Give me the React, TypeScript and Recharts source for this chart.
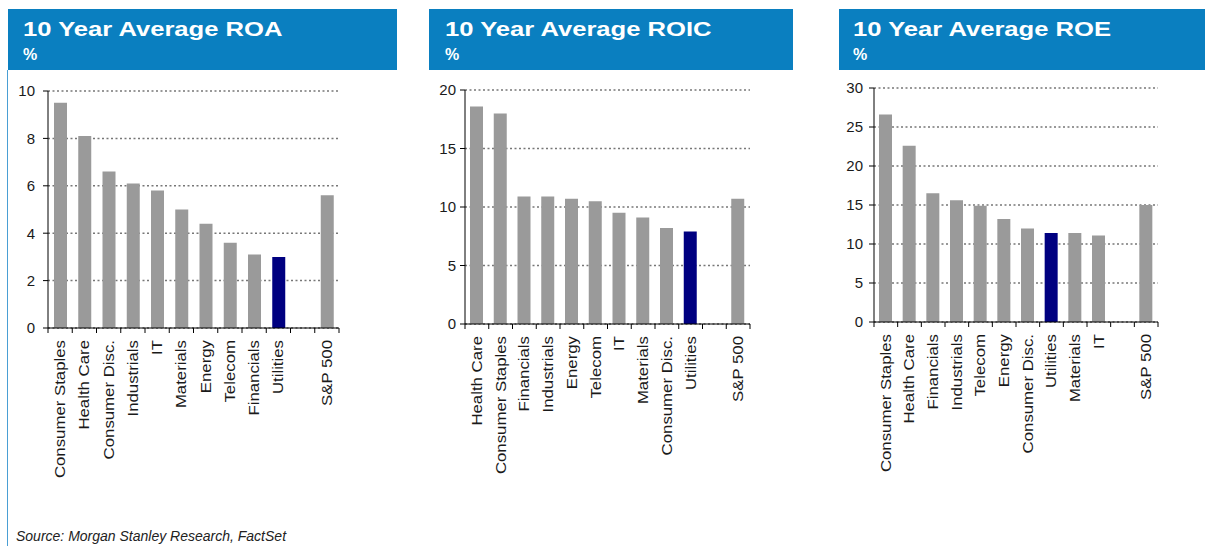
import { BarChart, Bar, XAxis, YAxis, CartesianGrid, Cell } from "recharts";

const roaCategories = [
  "Consumer Staples", "Health Care", "Consumer Disc.", "Industrials", "IT",
  "Materials", "Energy", "Telecom", "Financials", "Utilities", "", "S&P 500",
];
const roaValues = [9.5, 8.1, 6.6, 6.1, 5.8, 5.0, 4.4, 3.6, 3.1, 3.0, null, 5.6];
const roaTicks = [0, 2, 4, 6, 8, 10];

const roicCategories = [
  "Health Care", "Consumer Staples", "Financials", "Industrials", "Energy",
  "Telecom", "IT", "Materials", "Consumer Disc.", "Utilities", "", "S&P 500",
];
const roicValues = [18.6, 18.0, 10.9, 10.9, 10.7, 10.5, 9.5, 9.1, 8.2, 7.9, null, 10.7];
const roicTicks = [0, 5, 10, 15, 20];

const roeCategories = [
  "Consumer Staples", "Health Care", "Financials", "Industrials", "Telecom",
  "Energy", "Consumer Disc.", "Utilities", "Materials", "IT", "", "S&P 500",
];
const roeValues = [26.6, 22.6, 16.5, 15.6, 14.9, 13.2, 12.0, 11.4, 11.4, 11.1, null, 15.0];
const roeTicks = [0, 5, 10, 15, 20, 25, 30];

const FONT = "'Liberation Sans', Arial, sans-serif";
const HEADER_BLUE = "#0a7fc0";
const BAR_GREY = "#9a9a9a";
const HIGHLIGHT = "#000080";
const Y_AXIS_W = 44;
const X_AXIS_H = 160;
const PAGE_H = 546;

const XTick = (props: any) => {
  const { x, y, payload, index, slot, count } = props;
  return (
    <g>
      <line x1={x - slot / 2} x2={x - slot / 2} y1={y} y2={y + 5} stroke="#000" />
      {index === count - 1 && (
        <line x1={x + slot / 2} x2={x + slot / 2} y1={y} y2={y + 5} stroke="#000" />
      )}
      <text
        transform={`translate(${x},${y + 12}) rotate(-90) scale(1.2,1)`}
        textAnchor="end"
        dy="0.35em"
        fontSize={14}
        fontFamily={FONT}
        fill="#1a1a1a"
      >
        {payload.value}
      </text>
    </g>
  );
};

interface PanelProps {
  title: string;
  categories: string[];
  values: (number | null)[];
  ticks: number[];
  headerLeft: number;
  headerRight: number;
  textLeft: number;
  chartLeft: number;
  chartWidth: number;
  plot: { left: number; right: number; top: number; bottom: number };
  tickMargin: number;
}

const Panel = ({
  title, categories, values, ticks, headerLeft, headerRight, textLeft,
  chartLeft, chartWidth, plot, tickMargin,
}: PanelProps) => {
  const data = categories.map((name, i) => ({ name, value: values[i] }));
  const slot = (plot.right - plot.left) / categories.length;
  const margin = {
    top: plot.top,
    left: plot.left - chartLeft - Y_AXIS_W,
    right: chartLeft + chartWidth - plot.right,
    bottom: PAGE_H - plot.bottom - X_AXIS_H,
  };
  return (
    <>
      <div style={{ position: "absolute", left: chartLeft, top: 0 }}>
        <BarChart width={chartWidth} height={PAGE_H} data={data} margin={margin}>
          <CartesianGrid
            vertical={false}
            stroke="#777"
            strokeWidth={1.5}
            strokeDasharray="2 2.5"
          />
          <XAxis
            dataKey="name"
            interval={0}
            height={X_AXIS_H}
            tickLine={false}
            tickSize={0}
            tickMargin={0}
            axisLine={{ stroke: "#000" }}
            tick={(p: any) => <XTick {...p} slot={slot} count={categories.length} />}
          />
          <YAxis
            width={Y_AXIS_W}
            domain={[ticks[0], ticks[ticks.length - 1]]}
            ticks={ticks}
            interval={0}
            tickSize={5}
            tickMargin={tickMargin}
            axisLine={{ stroke: "#000" }}
            tickLine={{ stroke: "#000" }}
            tick={{ fontSize: 15, fill: "#1a1a1a", fontFamily: FONT }}
          />
          <Bar dataKey="value" barSize={13} isAnimationActive={false}>
            {data.map((d) => (
              <Cell key={d.name || "gap"} fill={d.name === "Utilities" ? HIGHLIGHT : BAR_GREY} />
            ))}
          </Bar>
        </BarChart>
      </div>
      <div
        style={{
          position: "absolute",
          left: headerLeft,
          top: 9,
          width: headerRight - headerLeft,
          height: 61,
          background: HEADER_BLUE,
        }}
      />
      <div
        style={{
          position: "absolute",
          left: textLeft,
          top: 19,
          fontFamily: FONT,
          fontWeight: 700,
          fontSize: 20,
          lineHeight: "20px",
          color: "#fff",
          whiteSpace: "nowrap",
          transform: "scaleX(1.28)",
          transformOrigin: "left",
        }}
      >
        {title}
      </div>
      <div
        style={{
          position: "absolute",
          left: textLeft,
          top: 47,
          fontFamily: FONT,
          fontWeight: 700,
          fontSize: 16,
          lineHeight: "16px",
          color: "#fff",
        }}
      >
        %
      </div>
    </>
  );
};

export default function App() {
  return (
    <div
      style={{
        position: "absolute",
        left: 0,
        top: 0,
        width: 1205,
        height: PAGE_H,
        overflow: "hidden",
        background: "#fff",
      }}
    >
      <Panel
        title="10 Year Average ROA"
        categories={roaCategories}
        values={roaValues}
        ticks={roaTicks}
        headerLeft={8}
        headerRight={397}
        textLeft={23}
        chartLeft={0}
        chartWidth={400}
        plot={{ left: 48, right: 339, top: 91, bottom: 328 }}
        tickMargin={8}
      />
      <Panel
        title="10 Year Average ROIC"
        categories={roicCategories}
        values={roicValues}
        ticks={roicTicks}
        headerLeft={429}
        headerRight={793}
        textLeft={445}
        chartLeft={400}
        chartWidth={400}
        plot={{ left: 465, right: 750, top: 90, bottom: 324 }}
        tickMargin={4}
      />
      <Panel
        title="10 Year Average ROE"
        categories={roeCategories}
        values={roeValues}
        ticks={roeTicks}
        headerLeft={839}
        headerRight={1205}
        textLeft={853}
        chartLeft={805}
        chartWidth={400}
        plot={{ left: 874, right: 1158, top: 88, bottom: 322 }}
        tickMargin={6}
      />
      <div
        style={{
          position: "absolute",
          left: 7,
          top: 70,
          width: 1,
          height: PAGE_H - 70,
          background: "#4a9fd4",
        }}
      />
      <div
        style={{
          position: "absolute",
          left: 16,
          top: 528,
          fontFamily: FONT,
          fontStyle: "italic",
          fontSize: 14,
          lineHeight: "16px",
          color: "#222",
          whiteSpace: "nowrap",
        }}
      >
        Source: Morgan Stanley Research, FactSet
      </div>
    </div>
  );
}
